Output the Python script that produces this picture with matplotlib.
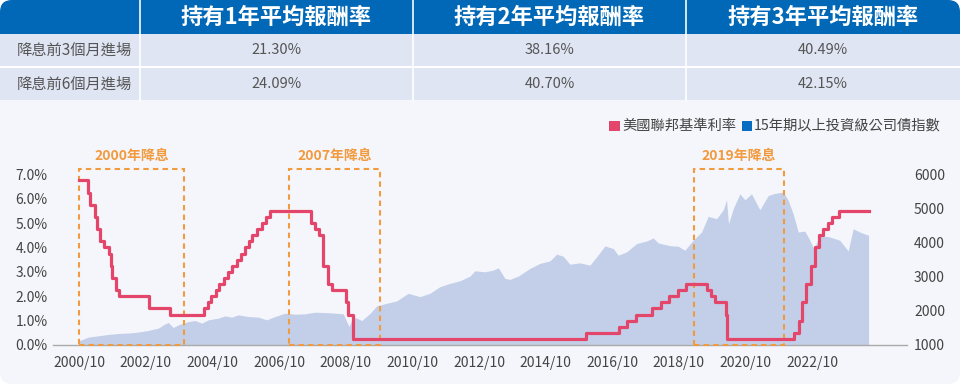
import matplotlib.pyplot as plt
import matplotlib.dates as mdates
from matplotlib.patches import FancyBboxPatch, Rectangle
from matplotlib.transforms import blended_transform_factory
import pandas as pd

plt.rcParams['font.family'] = ['Noto Sans CJK TC', 'DejaVu Sans']

# ---- table data ----
col_headers = ["持有1年平均報酬率", "持有2年平均報酬率", "持有3年平均報酬率"]
row_labels = ["降息前3個月進場", "降息前6個月進場"]
row_values = [["21.30%", "38.16%", "40.49%"],
              ["24.09%", "40.70%", "42.15%"]]

# ---- fed funds rate (step changes) ----
fed_dates = ["2000-10-01", "2001-01-03", "2001-01-31", "2001-03-20", "2001-04-18",
             "2001-05-15", "2001-06-27", "2001-08-21", "2001-09-17", "2001-10-02",
             "2001-11-06", "2001-12-11", "2002-11-06", "2003-06-25", "2004-06-30",
             "2004-08-10", "2004-09-21", "2004-11-10", "2004-12-14", "2005-02-02",
             "2005-03-22", "2005-05-03", "2005-06-30", "2005-08-09", "2005-09-20",
             "2005-11-01", "2005-12-13", "2006-01-31", "2006-03-28", "2006-05-10",
             "2006-06-29", "2007-09-18", "2007-10-31", "2007-12-11", "2008-01-22",
             "2008-01-30", "2008-03-18", "2008-04-30", "2008-10-08", "2008-10-29",
             "2008-12-16", "2015-12-16", "2016-12-14", "2017-03-15", "2017-06-14",
             "2017-12-13", "2018-03-21", "2018-06-13", "2018-09-26", "2018-12-19",
             "2019-07-31", "2019-09-18", "2019-10-30", "2020-03-03", "2020-03-15",
             "2022-03-16", "2022-05-04", "2022-06-15", "2022-07-27", "2022-09-21",
             "2022-11-02", "2022-12-14", "2023-02-01", "2023-03-22", "2023-05-03",
             "2023-07-26", "2024-06-10"]
fed_rates = [6.75, 6.25, 5.75, 5.25, 4.75,
             4.25, 4.00, 3.75, 3.25, 2.75,
             2.25, 2.00, 1.50, 1.25, 1.50,
             1.75, 2.00, 2.25, 2.50, 2.75,
             3.00, 3.25, 3.50, 3.75, 4.00,
             4.25, 4.50, 4.75, 5.00, 5.25,
             5.50, 5.00, 4.75, 4.50, 3.75,
             3.25, 2.50, 2.25, 1.75, 1.25,
             0.25, 0.50, 0.75, 1.00, 1.25,
             1.50, 1.75, 2.00, 2.25, 2.50,
             2.25, 2.00, 1.75, 1.25, 0.25,
             0.50, 1.00, 1.75, 2.50, 3.25,
             4.00, 4.50, 4.75, 5.00, 5.25,
             5.50, 5.50]

# ---- 15y+ investment grade corporate bond index ----
bond_dates = ["2000-10-01", "2001-01-12", "2001-05-01", "2001-08-18", "2001-12-05",
              "2002-03-25", "2002-07-12", "2002-10-30", "2003-02-17", "2003-05-01",
              "2003-06-06", "2003-07-30", "2003-09-24", "2004-01-12", "2004-03-25",
              "2004-06-06", "2004-08-18", "2004-12-05", "2005-02-17", "2005-05-01",
              "2005-07-12", "2005-10-30", "2006-02-17", "2006-05-18", "2006-08-18",
              "2006-12-05", "2007-03-25", "2007-07-12", "2007-10-30", "2008-02-17",
              "2008-06-06", "2008-09-05", "2008-10-12", "2008-11-06", "2008-12-24",
              "2009-03-25", "2009-06-06", "2009-06-24", "2009-09-05", "2009-12-24",
              "2010-04-12", "2010-08-18", "2010-12-24", "2011-04-12", "2011-07-30",
              "2011-11-18", "2012-03-06", "2012-06-24", "2012-08-18", "2012-12-05",
              "2013-03-06", "2013-05-01", "2013-07-12", "2013-09-05", "2013-12-05",
              "2014-04-12", "2014-07-30", "2014-11-18", "2015-01-30", "2015-04-12",
              "2015-06-24", "2015-10-12", "2016-01-30", "2016-04-12", "2016-07-12",
              "2016-10-12", "2016-12-05", "2017-03-06", "2017-06-24", "2017-10-12",
              "2017-12-24", "2018-02-17", "2018-06-24", "2018-09-24", "2018-12-05",
              "2019-03-06", "2019-06-06", "2019-08-18", "2019-11-18", "2020-01-30",
              "2020-03-06", "2020-03-28", "2020-05-18", "2020-07-30", "2020-09-24",
              "2020-12-05", "2021-03-06", "2021-06-06", "2021-07-30", "2021-09-24",
              "2021-11-18", "2022-01-12", "2022-03-06", "2022-05-01", "2022-07-12",
              "2022-09-05", "2022-10-18", "2022-12-24", "2023-04-12", "2023-07-30",
              "2023-10-30", "2023-12-24", "2024-03-06", "2024-06-10"]
bond_values = [1125, 1233, 1271, 1309, 1338,
               1350, 1379, 1425, 1495, 1620,
               1658, 1513, 1591, 1687, 1717,
               1641, 1737, 1787, 1854, 1816,
               1883, 1833, 1816, 1737, 1833,
               1932, 1903, 1912, 1961, 1950,
               1932, 1912, 1687, 1542, 1833,
               1717, 1883, 1924, 2145, 2223,
               2290, 2515, 2416, 2515, 2707,
               2806, 2882, 3019, 3174, 3144,
               3193, 3261, 2951, 2922, 3019,
               3243, 3389, 3465, 3660, 3601,
               3368, 3407, 3339, 3581, 3901,
               3825, 3630, 3727, 3971, 4047,
               4134, 3988, 3910, 3893, 3776,
               4067, 4309, 4767, 4700, 4962,
               5253, 4554, 4991, 5428, 5253,
               5428, 4962, 5378, 5428, 5457,
               5477, 5234, 4845, 4309, 4338,
               4067, 3825, 4213, 4164, 4067,
               3756, 4406, 4309, 4213]

# ---- rate-cut windows ----
cut_labels = ["2000年降息", "2007年降息", "2019年降息"]
cut_starts = ["2000-10-01", "2007-01-20", "2019-03-15"]
cut_ends = ["2003-11-25", "2009-10-10", "2021-11-25"]

x_ticks = ["2000-10-01", "2002-10-01", "2004-10-01", "2006-10-01", "2008-10-01", "2010-10-01",
           "2012-10-01", "2014-10-01", "2016-10-01", "2018-10-01", "2020-10-01", "2022-10-01"]
left_ticks = [0, 1, 2, 3, 4, 5, 6, 7]
right_ticks = [1000, 2000, 3000, 4000, 5000, 6000]

BLUE = "#0068b7"
ROW = "#dfe5f3"
BG = "#f5f6fb"
RED = "#e4466b"
AREA = "#c3cfe9"
ORANGE = "#f19a3e"
TXT = "#555555"

fig = plt.figure(figsize=(9.6, 3.84), dpi=100)
fig.patch.set_facecolor("white")

# overlay in pixel coordinates for the card and the table
bg = fig.add_axes([0, 0, 1, 1])
bg.set_xlim(0, 960)
bg.set_ylim(384, 0)
bg.axis("off")
bg.add_patch(FancyBboxPatch((0, 0), 960, 384, boxstyle="round,pad=0,rounding_size=12",
                            fc=BG, ec="none"))
bg.add_patch(FancyBboxPatch((0, 0), 960, 50, boxstyle="round,pad=0,rounding_size=12",
                            fc=BLUE, ec="none"))
bg.add_patch(Rectangle((0, 34), 960, 32, fc=ROW, ec="none"))
bg.add_patch(Rectangle((0, 66), 960, 2, fc="white", ec="none"))
bg.add_patch(Rectangle((0, 68), 960, 32, fc=ROW, ec="none"))

col_edges = [0, 140, 413, 686, 960]
for xe in col_edges[1:-1]:
    bg.plot([xe, xe], [0, 100], color="white", lw=1.3, alpha=0.9)

for j, h in enumerate(col_headers):
    cx = (col_edges[j + 1] + col_edges[j + 2]) / 2
    bg.text(cx, 17, h, color="white", fontsize=16, fontweight="bold", ha="center", va="center")

for i, lab in enumerate(row_labels):
    cy = 50 + 34 * i
    bg.text(17, cy, lab, color=TXT, fontsize=11, ha="left", va="center")
    for j, v in enumerate(row_values[i]):
        cx = (col_edges[j + 1] + col_edges[j + 2]) / 2
        bg.text(cx, cy, v, color=TXT, fontsize=10.5, ha="center", va="center")

# legend
bg.add_patch(Rectangle((609, 121), 11, 10, fc=RED, ec="none"))
bg.text(622, 126, "美國聯邦基準利率", color="#444444", fontsize=10.3, ha="left", va="center")
bg.add_patch(Rectangle((742, 121), 10, 10, fc="#0a6cc0", ec="none"))
bg.text(754, 126, "15年期以上投資級公司債指數", color="#444444", fontsize=10.3,
        ha="left", va="center")

# ---- chart ----
ax = fig.add_axes([53 / 960, 39 / 384, 854 / 960, 176.3 / 384])
ax2 = ax.twinx()
ax.set_zorder(ax2.get_zorder() + 1)
ax.patch.set_visible(False)
ax2.patch.set_visible(False)

bd = pd.to_datetime(bond_dates)
ax2.fill_between(bd, 1000, bond_values, color=AREA, lw=0)
ax2.set_ylim(1000, 1000 + 7.23 / 7 * 5000)
ax2.set_yticks(right_ticks)
ax2.set_yticklabels([str(v) for v in right_ticks])

fd = pd.to_datetime(fed_dates)
ax.step(fd, fed_rates, where="post", color=RED, lw=2.3, zorder=5)
ax.set_ylim(0, 7.23)
ax.set_yticks(left_ticks)
ax.set_yticklabels([f"{v:.1f}%" for v in left_ticks])

ax.set_xlim(pd.Timestamp("1999-12-20"), pd.Timestamp("2025-08-05"))
ax.set_xticks(pd.to_datetime(x_ticks))
ax.xaxis.set_major_formatter(mdates.DateFormatter("%Y/%m"))

trans = blended_transform_factory(ax.transData, ax.transAxes)
for lab, s, e in zip(cut_labels, cut_starts, cut_ends):
    x0 = mdates.date2num(pd.Timestamp(s))
    x1 = mdates.date2num(pd.Timestamp(e))
    ax.add_patch(Rectangle((x0, 0), x1 - x0, 1, transform=trans, fill=False,
                           ec=ORANGE, lw=1.5, ls=(0, (2.6, 2.0)), clip_on=False, zorder=4))
    ax.text((x0 + x1) / 2, 1.074, lab, transform=trans, color=ORANGE, fontsize=10,
            fontweight="bold", ha="center", va="center")

for a in (ax, ax2):
    for sp in a.spines.values():
        sp.set_visible(False)
    a.tick_params(length=0, labelsize=10, labelcolor="#444444")
ax.spines["bottom"].set_visible(True)
ax.spines["bottom"].set_color("#aaaaaa")
ax.spines["bottom"].set_linewidth(1.0)
ax.tick_params(axis="y", pad=4)
ax.tick_params(axis="x", pad=8)
ax2.tick_params(axis="y", pad=5)

fig.savefig("out.png", dpi=100)
